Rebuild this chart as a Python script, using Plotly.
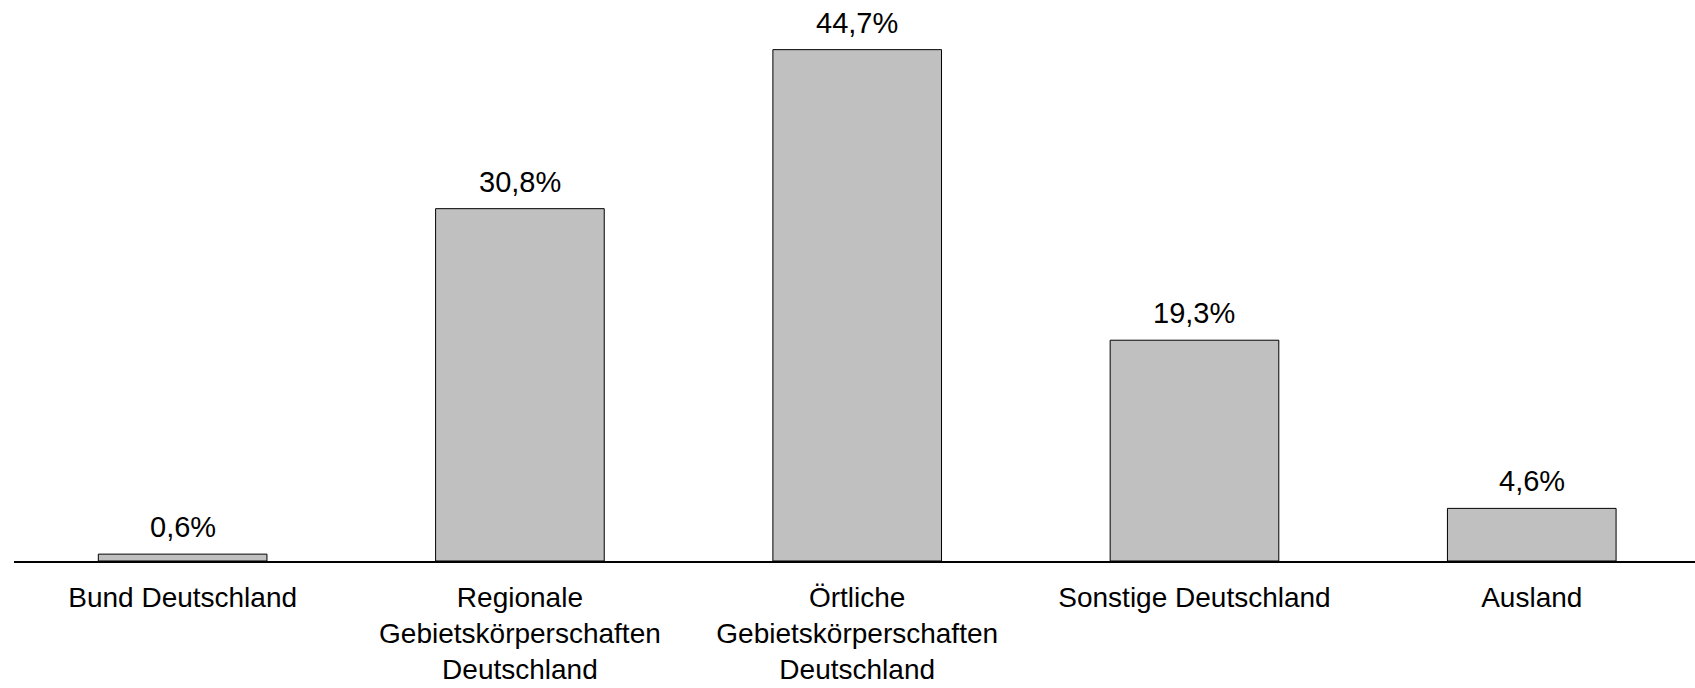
import plotly.graph_objects as go

categories = [
    "Bund Deutschland",
    "Regionale<br>Gebietskörperschaften<br>Deutschland",
    "Örtliche<br>Gebietskörperschaften<br>Deutschland",
    "Sonstige Deutschland",
    "Ausland",
]
values = [0.6, 30.8, 44.7, 19.3, 4.6]
value_labels = ["0,6%", "30,8%", "44,7%", "19,3%", "4,6%"]

xs = list(range(len(categories)))

fig = go.Figure(
    go.Bar(
        x=xs,
        y=values,
        marker=dict(color="#c0c0c0", line=dict(color="black", width=1)),
        hoverinfo="skip",
    )
)

for xi, v, lab in zip(xs, values, value_labels):
    fig.add_annotation(
        x=xi, y=v, text=lab, showarrow=False,
        xanchor="center", yanchor="bottom", yshift=9,
        font=dict(size=29, color="black"),
    )

fig.update_layout(
    width=1695,
    height=688,
    margin=dict(l=14, r=0, t=0, b=127, pad=0),
    plot_bgcolor="white",
    paper_bgcolor="white",
    separators=",.",
    bargap=0.5,
    showlegend=False,
    font=dict(family="Liberation Sans, Arial, sans-serif", size=28, color="black"),
    xaxis=dict(
        tickmode="array",
        tickvals=xs,
        ticktext=categories,
        range=[-0.5, 4.484],
        showline=True,
        linecolor="black",
        linewidth=2,
        ticks="",
        ticklabelstandoff=10,
        automargin=False,
        showgrid=False,
        zeroline=False,
        tickfont=dict(size=28, color="black"),
    ),
    yaxis=dict(
        range=[0, 49.04],
        visible=False,
        automargin=False,
        showgrid=False,
        zeroline=False,
    ),
)

fig.write_html(
    "out.html",
    config={"displayModeBar": False},
    post_script="document.body.style.margin='0';document.body.style.overflow='hidden';",
)
